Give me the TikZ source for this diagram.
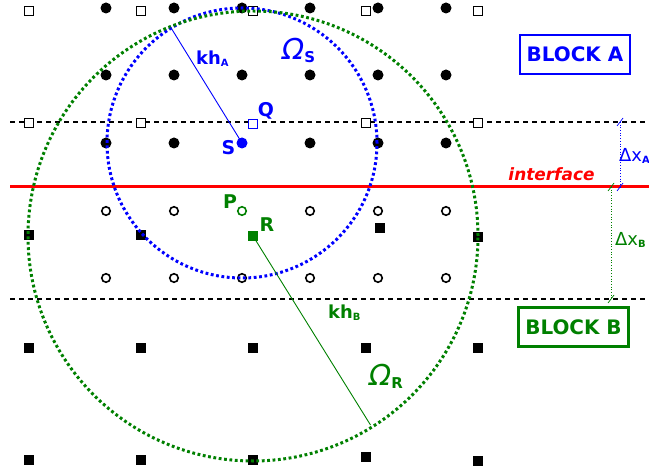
\documentclass[tikz,border=0pt]{standalone}
\usepackage{fontspec}
\setmainfont{DejaVu Sans}
\usetikzlibrary{calc}
\definecolor{gB}{RGB}{0,128,0}
\definecolor{bA}{RGB}{0,0,255}
\definecolor{rI}{RGB}{255,0,0}
\newcommand{\subsc}[2]{\raisebox{-#1}{\fontsize{10}{10}\selectfont\bfseries #2}}
\begin{document}
\begin{tikzpicture}[x=1bp,y=-1bp,
 fcirc/.style={circle,fill=black,inner sep=0pt,minimum size=11bp},
 ocirc/.style={circle,draw=black,fill=white,line width=1.6bp,inner sep=0pt,minimum size=8.5bp},
 osq/.style={rectangle,draw=black,fill=white,line width=1.3bp,inner sep=0pt,minimum size=8.5bp},
 fsq/.style={rectangle,fill=black,inner sep=0pt,minimum size=9.5bp},
 dotcirc/.style={line width=3bp,dash pattern=on 2.8bp off 2.6bp},
 gridline/.style={black,line width=1.1bp,dash pattern=on 5bp off 4bp},
 lbl/.style={font=\fontsize{19}{19}\selectfont\bfseries,inner sep=0pt},
 omg/.style={font=\fontsize{29}{29}\selectfont\itshape,inner sep=0pt,anchor=base west},
 khl/.style={font=\fontsize{18}{18}\selectfont\bfseries,inner sep=0pt,anchor=base west},
 dxl/.style={font=\fontsize{18}{18}\selectfont,inner sep=0pt,anchor=base west},
 dimline/.style={line width=0.7bp,dotted},
 block/.style={draw,line width=2.5bp,font=\fontsize{20}{20}\selectfont\bfseries,minimum width=110bp,minimum height=39bp,inner sep=0pt}
]
\useasboundingbox (0,0) rectangle (649,473);
% horizontal lines
\coordinate (d1l) at (10,122); \coordinate (d1r) at (649,122);
\coordinate (d2l) at (10,299); \coordinate (d2r) at (649,299);
\coordinate (ifl) at (10,187); \coordinate (ifr) at (649,187);
\draw[gridline] (d1l) -- (d1r);
\draw[gridline] (d2l) -- (d2r);
\draw[rI,line width=3bp] (ifl) -- (ifr);
% dimension lines
\coordinate (a1) at (620,122); \coordinate (a2) at (620,187);
\coordinate (b1) at (611,187); \coordinate (b2) at (611,299);
\draw[bA,dimline] (a1) -- (a2);
\draw[gB,dimline] (b1) -- (b2);
\foreach \p in {a1,a2} \draw[bA,line width=0.7bp] ($(\p)+(-3,4)$) -- ($(\p)+(3,-4)$);
\foreach \p in {b1,b2} \draw[gB,line width=0.7bp] ($(\p)+(-3,4)$) -- ($(\p)+(3,-4)$);
\node[dxl,text=bA] (dxa) at (619,162) {Δx\subsc{2bp}{A}};
\node[dxl,text=gB] (dxb) at (615,246) {Δx\subsc{2bp}{B}};
% block A filled circles
\foreach \y [count=\j] in {8,75,143}
  \foreach \x [count=\i] in {106,174,242,310,378,446}
    {\ifnum\j=3 \ifnum\i=3 \else \node[fcirc] (fc-\j-\i) at (\x,\y) {};\fi
     \else \node[fcirc] (fc-\j-\i) at (\x,\y) {};\fi}
% block A open squares
\foreach \y [count=\j] in {11,123}
  \foreach \x [count=\i] in {29,141,253,366,478}
    {\ifnum\j=2 \ifnum\i=3 \else \node[osq] (os-\j-\i) at (\x,\y) {};\fi
     \else \node[osq] (os-\j-\i) at (\x,\y) {};\fi}
% block B open circles
\foreach \y [count=\j] in {211,278}
  \foreach \x [count=\i] in {106,174,242,310,378,446}
    {\ifnum\j=1 \ifnum\i=3 \else \node[ocirc] (oc-\j-\i) at (\x,\y) {};\fi
     \else \node[ocirc] (oc-\j-\i) at (\x,\y) {};\fi}
% block B filled squares
\node[fsq] (fs-1-1) at (29,235) {};
\node[fsq] (fs-1-2) at (141,235) {};
\node[fsq] (fs-1-4) at (380,228) {};
\node[fsq] (fs-1-5) at (478,237) {};
\foreach \x [count=\i] in {29,141,253,366,478} \node[fsq] (fs-2-\i) at (\x,348) {};
\node[fsq] (fs-3-1) at (29,460) {};
\node[fsq] (fs-3-2) at (141,460) {};
\node[fsq] (fs-3-3) at (253,460) {};
\node[fsq] (fs-3-4) at (366,457) {};
\node[fsq] (fs-3-5) at (478,461) {};
% special points
\node[fcirc,fill=bA] (S) at (242,143) {};
\node[osq,draw=bA] (Q) at (253,124) {};
\node[ocirc,draw=gB] (P) at (242,211) {};
\node[fsq,fill=gB] (R) at (253,236) {};
% support circles
\draw[bA,dotcirc] (S.center) circle[radius=135bp];
\draw[gB,dotcirc] (R.center) circle[radius=225bp];
% radii
\coordinate (ka) at (170.5,27);
\coordinate (kb) at (370.5,425);
\draw[bA,line width=0.9bp] (S.center) -- (ka);
\draw[gB,line width=0.9bp] (R.center) -- (kb);
% labels
\node[lbl,text=bA] (Sl) at (228.5,148) {S};
\node[lbl,text=bA] (Ql) at (266,111) {Q};
\node[lbl,text=gB] (Pl) at (230,202) {P};
\node[lbl,text=gB] (Rl) at (267,225) {R};
\node[khl,text=bA] (kha) at (196,65) {kh\subsc{2bp}{A}};
\node[khl,text=gB] (khb) at (328,319) {kh\subsc{2bp}{B}};
\node[omg,text=bA] (oms) at (282,60) {Ω\raisebox{-3bp}{\fontsize{15}{15}\selectfont\bfseries\upshape S}};
\node[omg,text=gB] (omr) at (369,385) {Ω\raisebox{-3bp}{\fontsize{15}{15}\selectfont\bfseries\upshape R}};
\node[text=rI,font=\fontsize{17}{17}\selectfont\bfseries\itshape,inner sep=0pt,anchor=base] (ifc) at (551.5,181) {interface};
\node[block,draw=bA,text=bA] (blA) at (575,54.5) {BLOCK A};
\node[block,draw=gB,text=gB] (blB) at (573.5,327) {BLOCK B};
\end{tikzpicture}
\end{document}
